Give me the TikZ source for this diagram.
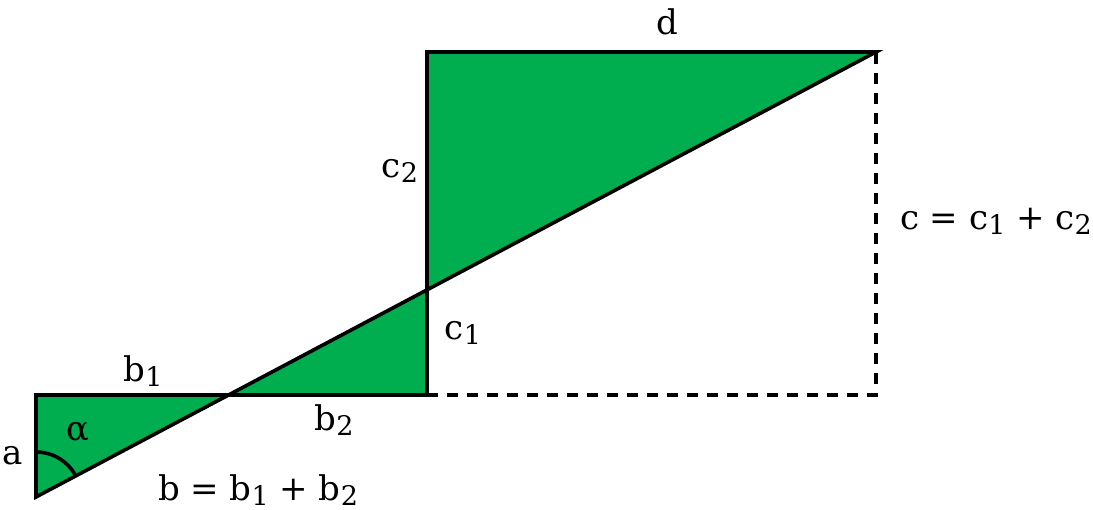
\documentclass[tikz,border=0pt]{standalone}
\usepackage{fontspec}
\setmainfont{DejaVu Serif}
\definecolor{fillgreen}{RGB}{0,173,79}
\newcommand\sbs[1]{\raisebox{-0.28ex}{\fontsize{27}{27}\selectfont #1}}
\tikzset{
  edge/.style={draw=black, line width=3.6pt},
  dash line/.style={draw=black, line width=3.2pt, dash pattern=on 11pt off 9pt},
  lbl/.style={font=\fontsize{34}{38}\selectfont, inner sep=0pt}
}
\begin{document}
\begin{tikzpicture}[x=1pt,y=1pt]
\useasboundingbox (0,0) rectangle (1093,510);
\coordinate (A) at (36,115);
\coordinate (B) at (36,13);
\coordinate (M) at (232,115);
\coordinate (C) at (427,115);
\coordinate (N) at (427,220);
\coordinate (D) at (427,458);
\coordinate (E) at (876,458);
\coordinate (F) at (876,115);
\draw[dash line] (C) -- (F) -- (E);
\fill[fillgreen] (A) -- (B) -- (M) -- cycle;
\fill[fillgreen] (M) -- (C) -- (N) -- cycle;
\fill[fillgreen] (N) -- (D) -- (E) -- cycle;
\draw[edge, line join=miter] (M) -- (A) -- (B) -- (E) -- (D) -- (C) -- (M);
\draw[line width=3.6pt] ([yshift=45pt]B) arc[start angle=90, end angle=27.9, radius=45pt];
\node[lbl] (ld) at (667,488) {d};
\node[lbl] (lc2) at (400,339) {c\sbs{2}};
\node[lbl] (lc1) at (463,177) {c\sbs{1}};
\node[lbl] (lb1) at (143,139) {b\sbs{1}};
\node[lbl] (lb2) at (334,90) {b\sbs{2}};
\node[lbl] (lal) at (78,78) {α};
\node[lbl] (la) at (13,54) {a};
\node[lbl] (lb) at (258,20) {b = b\sbs{1} + b\sbs{2}};
\node[lbl] (lc) at (996,289) {c = c\sbs{1} + c\sbs{2}};
\end{tikzpicture}
\end{document}
